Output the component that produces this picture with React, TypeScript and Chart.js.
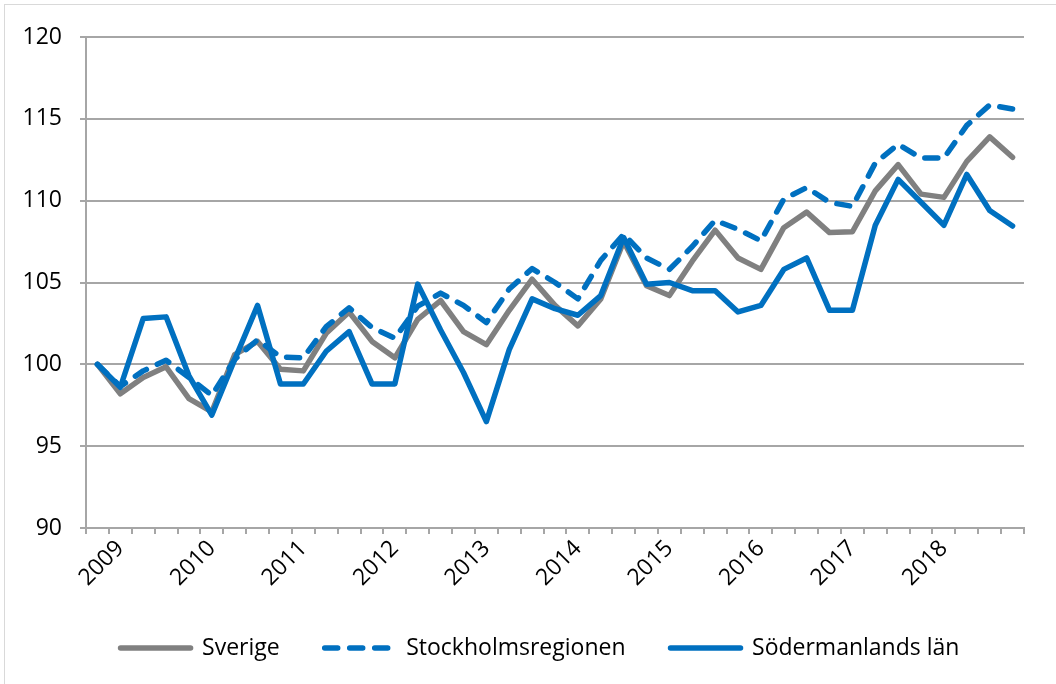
import React, { useEffect, useRef } from "react";
import { Chart, registerables } from "chart.js";

Chart.register(...registerables);

const xLabels: string[] = [
  "", "2009", "", "", "", "2010", "", "", "", "2011", "", "", "", "2012", "", "", "",
  "2013", "", "", "", "2014", "", "", "", "2015", "", "", "", "2016", "", "", "",
  "2017", "", "", "", "2018", "", "", "",
];

const sverige: number[] = [
  100, 98.2, 99.2, 99.85, 97.9, 97.1, 100.6, 101.4, 99.7, 99.6, 101.9, 103.2, 101.4,
  100.4, 102.75, 103.9, 102.0, 101.2, 103.3, 105.2, 103.6, 102.35, 104.0, 107.5, 104.8,
  104.2, 106.3, 108.2, 106.5, 105.8, 108.35, 109.3, 108.05, 108.1, 110.6, 112.2, 110.4,
  110.2, 112.4, 113.9, 112.65,
];

const stockholm: number[] = [
  100, 98.65, 99.6, 100.25, 99.2, 98.1, 100.3, 101.5, 100.45, 100.4, 102.3, 103.45,
  102.25, 101.6, 103.55, 104.35, 103.6, 102.55, 104.6, 105.85, 105.0, 104.0, 106.35,
  107.95, 106.5, 105.8, 107.2, 108.8, 108.25, 107.55, 110.1, 110.8, 109.9, 109.65, 112.3,
  113.45, 112.6, 112.6, 114.6, 115.85, 115.6,
];

const sodermanland: number[] = [
  100, 98.6, 102.8, 102.9, 99.3, 96.9, 100.3, 103.6, 98.8, 98.8, 100.8, 102.0, 98.8,
  98.8, 104.9, 102.1, 99.5, 96.5, 100.9, 104.0, 103.4, 103.0, 104.2, 107.75, 104.9, 105.0,
  104.5, 104.5, 103.2, 103.6, 105.8, 106.5, 103.3, 103.3, 108.5, 111.3, 109.9, 108.5,
  111.6, 109.4, 108.45,
];

const seriesNames: string[] = ["Sverige", "Stockholmsregionen", "Södermanlands län"];

const GRAY = "#808080";
const BLUE = "#0070c0";
const GRID = "#a6a6a6";
const FONT = "'Open Sans', 'Liberation Sans', sans-serif";
const LINE_W = 5.5;

const legendShift = {
  id: "legendShift",
  afterLayout(chart: any) {
    const lg = chart.legend;
    if (!lg) return;
    const dx = 22;
    const dy = -6.5;
    lg.left += dx;
    lg.right += dx;
    lg.top += dy;
    lg.bottom += dy;
  },
};

export default function App() {
  const ref = useRef<HTMLCanvasElement | null>(null);

  useEffect(() => {
    if (!ref.current) return;
    const chart = new Chart(ref.current, {
      type: "line",
      plugins: [legendShift],
      data: {
        labels: xLabels,
        datasets: [
          {
            label: seriesNames[0],
            data: sverige,
            borderColor: GRAY,
            backgroundColor: GRAY,
            borderWidth: LINE_W,
            order: 3,
          },
          {
            label: seriesNames[1],
            data: stockholm,
            borderColor: BLUE,
            backgroundColor: BLUE,
            borderWidth: LINE_W,
            borderDash: [13, 12],
            order: 2,
          },
          {
            label: seriesNames[2],
            data: sodermanland,
            borderColor: BLUE,
            backgroundColor: BLUE,
            borderWidth: LINE_W,
            order: 1,
          },
        ],
      },
      options: {
        animation: false,
        responsive: false,
        maintainAspectRatio: false,
        elements: {
          point: { radius: 0, hoverRadius: 0 },
          line: { tension: 0, borderJoinStyle: "round", borderCapStyle: "round" },
        },
        layout: { padding: { left: 12, right: 32, top: 37, bottom: 8 } },
        scales: {
          x: {
            type: "category",
            offset: true,
            afterFit: (s: any) => {
              s.height = 70;
            },
            grid: {
              offset: true,
              drawOnChartArea: false,
              drawTicks: true,
              tickLength: 6,
              color: GRID,
              lineWidth: 2,
            },
            border: { display: true, color: GRID, width: 2 },
            ticks: {
              autoSkip: false,
              maxRotation: 45,
              minRotation: 45,
              padding: 1,
              color: "#000",
              font: { family: FONT, size: 23 },
            },
          },
          y: {
            min: 90,
            max: 120,
            afterFit: (s: any) => {
              s.width = 74;
            },
            grid: {
              color: GRID,
              lineWidth: 2,
              tickLength: 6,
              drawTicks: true,
            },
            border: { display: true, color: GRID, width: 2 },
            ticks: {
              stepSize: 5,
              padding: 18,
              color: "#000",
              font: { family: FONT, size: 23 },
            },
          },
        },
        plugins: {
          tooltip: { enabled: false },
          legend: {
            position: "bottom",
            labels: {
              usePointStyle: true,
              pointStyle: "line",
              pointStyleWidth: 70,
              boxHeight: 23,
              padding: 45,
              color: "#000",
              font: { family: FONT, size: 23 },
              generateLabels: (c: any) =>
                c.data.datasets.map((ds: any, i: number) => ({
                  text: ds.label,
                  datasetIndex: i,
                  fillStyle: ds.borderColor,
                  strokeStyle: ds.borderColor,
                  fontColor: "#000",
                  lineWidth: LINE_W,
                  lineDash: ds.borderDash || [],
                  lineDashOffset: 0,
                  lineCap: "round",
                  lineJoin: "round",
                  pointStyle: "line",
                  rotation: 0,
                  hidden: false,
                })),
            },
          },
        },
      },
    } as any);
    return () => chart.destroy();
  }, []);

  return (
    <div style={{ position: "fixed", left: 0, top: 0, width: 1056, height: 684, background: "#fff", overflow: "hidden" }}>
      <div
        style={{
          position: "absolute",
          left: 4,
          top: 4,
          width: 1070,
          height: 700,
          border: "1px solid #d9d9d9",
          boxSizing: "border-box",
        }}
      />
      <canvas ref={ref} width={1056} height={684} style={{ position: "absolute", left: 0, top: 0 }} />
    </div>
  );
}
